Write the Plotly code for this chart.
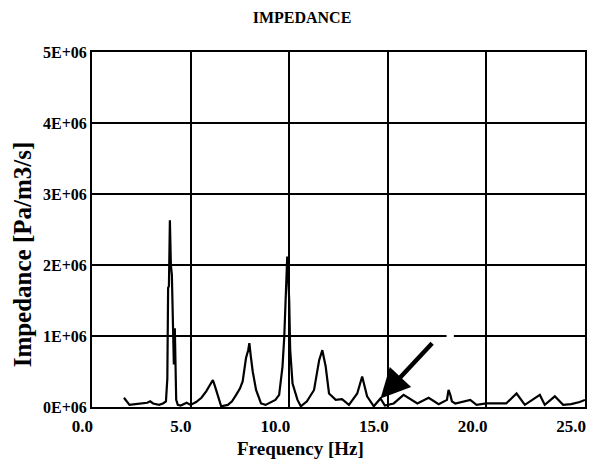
import plotly.graph_objects as go

# Frequency [Hz] and impedance [x1E+06 Pa/m3/s]
freq = [1.62, 1.75, 1.9, 2.2, 2.5, 2.8, 2.95, 3.1, 3.4, 3.6, 3.75, 3.82, 3.86, 3.9, 3.95,
        4.0, 4.05, 4.1, 4.15, 4.2, 4.27, 4.35, 4.5, 4.8, 5.0, 5.28, 5.55, 5.79, 6.0, 6.13,
        6.25, 6.38, 6.55, 6.89, 7.1, 7.31, 7.5, 7.64, 7.81, 7.92, 7.98, 8.05, 8.15, 8.32,
        8.57, 8.8, 9.1, 9.3, 9.49, 9.66, 9.75, 9.86, 9.9, 9.95, 10.0, 10.05, 10.17, 10.42,
        10.59, 10.9, 11.26, 11.52, 11.68, 11.85, 12.02, 12.36, 12.68, 13.03, 13.45, 13.7,
        13.95, 14.29, 14.63, 14.85, 15.3, 15.8, 16.5, 17.07, 17.58, 18.0, 18.08, 18.17,
        18.25, 18.42, 19.18, 19.5, 20.0, 21.0, 21.53, 21.95, 22.71, 22.96, 23.47, 23.89,
        24.3, 24.73, 25.0]
impedance_e6 = [0.13, 0.08, 0.03, 0.04, 0.05, 0.06, 0.08, 0.05, 0.03, 0.05, 0.08, 0.4, 1.68, 1.7, 2.63,
                2.0, 1.86, 1.2, 0.6, 1.11, 0.1, 0.03, 0.02, 0.06, 0.03, 0.07, 0.13, 0.22, 0.32, 0.38,
                0.28, 0.15, 0.01, 0.03, 0.08, 0.17, 0.26, 0.36, 0.69, 0.8, 0.9, 0.72, 0.5, 0.24,
                0.05, 0.03, 0.07, 0.1, 0.17, 0.57, 0.99, 1.9, 2.12, 1.85, 1.5, 0.8, 0.33, 0.1,
                0.01, 0.08, 0.24, 0.66, 0.8, 0.57, 0.19, 0.1, 0.11, 0.03, 0.19, 0.43,
                0.15, 0.01, 0.12, 0.02, 0.05, 0.17, 0.05, 0.13, 0.04, 0.1, 0.24, 0.17,
                0.08, 0.05, 0.1, 0.03, 0.05, 0.05, 0.19, 0.03, 0.17, 0.03, 0.15, 0.03,
                0.04, 0.07, 0.1]
impedance = [v * 1e6 for v in impedance_e6]

x_ticks = [0, 5, 10, 15, 20, 25]
x_tick_labels = ["0.0", "5.0", "10.0", "15.0", "20.0", "25.0"]
y_ticks = [0, 1e6, 2e6, 3e6, 4e6, 5e6]
y_tick_labels = ["0E+06", "1E+06", "2E+06", "3E+06", "4E+06", "5E+06"]

# arrow: tail and tip in data units
arrow_tail = (17.32, 0.92e6)
arrow_tip = (14.63, 0.12e6)

FONT = "Liberation Serif"

fig = go.Figure()
fig.add_trace(go.Scatter(x=freq, y=impedance, mode="lines",
                         line=dict(color="black", width=2.2), showlegend=False))

fig.add_annotation(x=arrow_tip[0], y=arrow_tip[1], ax=arrow_tail[0], ay=arrow_tail[1],
                   xref="x", yref="y", axref="x", ayref="y", text="",
                   showarrow=True, arrowhead=2, arrowsize=1.3, arrowwidth=4.5,
                   arrowcolor="black")

# y-axis title as annotation (sits lower than centre in reference)
fig.add_annotation(text="Impedance [Pa/m3/s]", textangle=-90, xref="paper", yref="paper",
                   x=-0.142, y=0.43, showarrow=False, xanchor="center", yanchor="middle",
                   font=dict(family=FONT, size=25, color="black", weight="bold"))

# x-axis title as annotation (sits left of centre in reference)
fig.add_annotation(text="Frequency [Hz]", xref="paper", yref="paper",
                   x=0.4222, y=-0.1183, showarrow=False,
                   xanchor="center", yanchor="middle",
                   font=dict(family=FONT, size=19, color="black", weight="bold"))

# small break in 1E+06 grid line seen in the reference
fig.add_shape(type="rect", xref="x", yref="y", x0=17.98, x1=18.35, y0=0.97e6, y1=1.03e6,
              fillcolor="white", line=dict(width=0), layer="between")

fig.update_layout(
    width=596, height=465,
    margin=dict(l=92, r=9, t=52, b=58),
    paper_bgcolor="white", plot_bgcolor="white",
    title=dict(text="IMPEDANCE", x=302 / 596, xanchor="center", y=1 - 17 / 465, yanchor="middle",
               xref="container",
               font=dict(family=FONT, size=16, color="black", weight="bold")),
    xaxis=dict(range=[0, 25], tickvals=x_ticks, ticktext=x_tick_labels,
               showgrid=True, gridcolor="black", gridwidth=2,
               showline=True, linecolor="black", linewidth=2, mirror=True,
               zeroline=False, ticks="", ticklen=0, ticklabelposition="outside left",
               ticklabelshift=2, ticklabelstandoff=3,
               tickfont=dict(family=FONT, size=17, color="black", weight="bold")),
    yaxis=dict(range=[0, 5e6], tickvals=y_ticks, ticktext=y_tick_labels,
               showgrid=True, gridcolor="black", gridwidth=2,
               showline=True, linecolor="black", linewidth=2, mirror=True,
               zeroline=False, ticks="", ticklen=0,
               tickfont=dict(family=FONT, size=16, color="black", weight="bold")),
)

fig.write_html("out.html")
